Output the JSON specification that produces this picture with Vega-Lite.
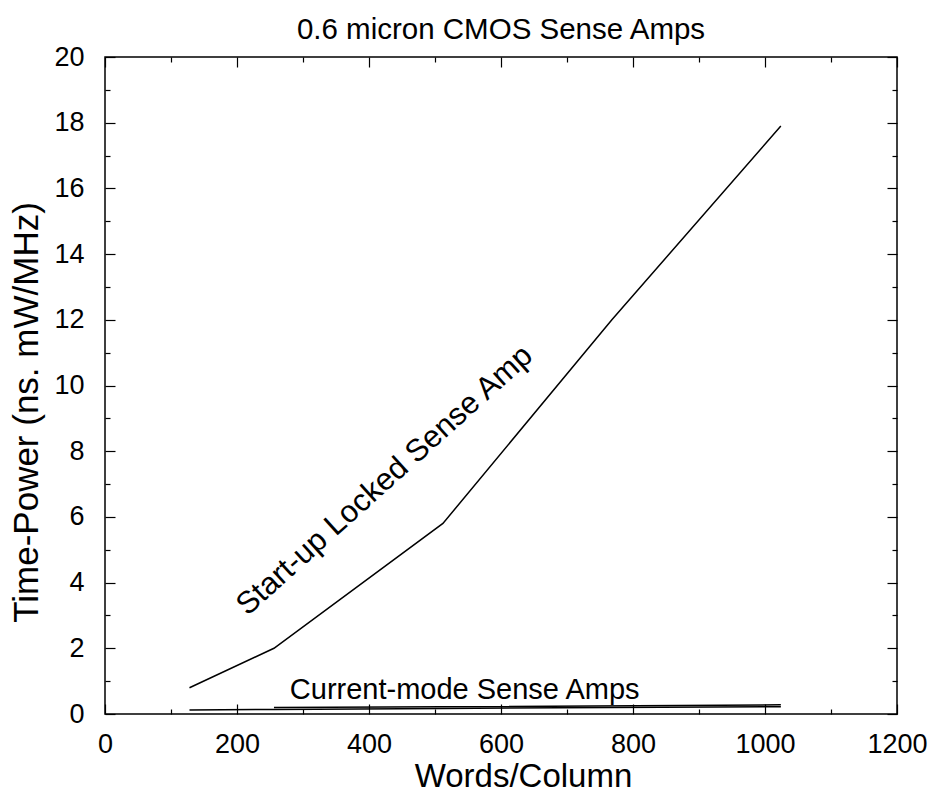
{
  "$schema": "https://vega.github.io/schema/vega-lite/v6.json",
  "autosize": "none",
  "width": 792,
  "height": 657,
  "padding": {"left": 105, "top": 57, "right": 40, "bottom": 85},
  "background": "white",
  "title": {"text": "0.6 micron CMOS Sense Amps", "font": "Liberation Sans", "fontSize": 29.5, "fontWeight": "normal", "color": "black", "offset": -2},
  "config": {
    "view": {"stroke": "black", "strokeWidth": 1.5},
    "axis": {"domain": false, "grid": false, "labelFont": "Liberation Sans", "titleFont": "Liberation Sans", "labelColor": "black", "titleColor": "black", "tickColor": "black", "labelFontSize": 27, "titleFontSize": 35, "titleFontWeight": "normal", "tickWidth": 1.2, "format": "d", "labelFlush": false, "labelOverlap": false}
  },
  "datasets": {
    "lines": [
      {"words": 128, "tp": 0.8, "series": "Start-up Locked"},
      {"words": 256, "tp": 2.0, "series": "Start-up Locked"},
      {"words": 512, "tp": 5.8, "series": "Start-up Locked"},
      {"words": 768, "tp": 12.0, "series": "Start-up Locked"},
      {"words": 1024, "tp": 17.9, "series": "Start-up Locked"},
      {"words": 128, "tp": 0.12, "series": "Current-mode A"},
      {"words": 256, "tp": 0.14, "series": "Current-mode A"},
      {"words": 512, "tp": 0.17, "series": "Current-mode A"},
      {"words": 1024, "tp": 0.22, "series": "Current-mode A"},
      {"words": 256, "tp": 0.2, "series": "Current-mode B"},
      {"words": 512, "tp": 0.22, "series": "Current-mode B"},
      {"words": 1024, "tp": 0.28, "series": "Current-mode B"}
    ],
    "labels": [
      {"words": 424, "tp": 7.1, "text": "Start-up Locked Sense Amp", "angle": -42},
      {"words": 545, "tp": 0.73, "text": "Current-mode Sense Amps", "angle": 0}
    ]
  },
  "resolve": {"axis": {"x": "independent", "y": "independent"}},
  "layer": [
    {
      "data": {"name": "lines"},
      "mark": {"type": "line", "color": "black", "strokeWidth": 1.5},
      "encoding": {
        "x": {"field": "words", "type": "quantitative", "scale": {"domain": [0, 1200], "nice": false}, "axis": {"orient": "bottom", "title": "Words/Column", "values": [0, 200, 400, 600, 800, 1000, 1200], "tickSize": -10, "labelPadding": 27, "titlePadding": 3, "titleX": 418, "titleFontSize": 33}},
        "y": {"field": "tp", "type": "quantitative", "scale": {"domain": [0, 20], "nice": false}, "axis": {"orient": "left", "title": "Time-Power (ns. mW/MHz)", "values": [0, 2, 4, 6, 8, 10, 12, 14, 16, 18, 20], "tickSize": -10, "labelPadding": 31, "titlePadding": 9, "titleY": 355}},
        "detail": {"field": "series"}
      }
    },
    {
      "data": {"name": "lines"},
      "mark": {"type": "point", "opacity": 0},
      "encoding": {
        "x": {"field": "words", "type": "quantitative", "axis": {"orient": "bottom", "title": null, "labels": false, "values": [100, 300, 500, 700, 900, 1100], "tickSize": -5}},
        "y": {"field": "tp", "type": "quantitative", "axis": {"orient": "left", "title": null, "labels": false, "values": [1, 3, 5, 7, 9, 11, 13, 15, 17, 19], "tickSize": -5}}
      }
    },
    {
      "data": {"name": "lines"},
      "mark": {"type": "point", "opacity": 0},
      "encoding": {
        "x": {"field": "words", "type": "quantitative", "axis": {"orient": "top", "title": null, "labels": false, "values": [0, 200, 400, 600, 800, 1000, 1200], "tickSize": -10}},
        "y": {"field": "tp", "type": "quantitative", "axis": {"orient": "right", "title": null, "labels": false, "values": [0, 2, 4, 6, 8, 10, 12, 14, 16, 18, 20], "tickSize": -10}}
      }
    },
    {
      "data": {"name": "lines"},
      "mark": {"type": "point", "opacity": 0},
      "encoding": {
        "x": {"field": "words", "type": "quantitative", "axis": {"orient": "top", "title": null, "labels": false, "values": [100, 300, 500, 700, 900, 1100], "tickSize": -5}},
        "y": {"field": "tp", "type": "quantitative", "axis": {"orient": "right", "title": null, "labels": false, "values": [1, 3, 5, 7, 9, 11, 13, 15, 17, 19], "tickSize": -5}}
      }
    },
    {
      "data": {"name": "labels"},
      "mark": {"type": "text", "font": "Liberation Sans", "color": "black", "align": "center", "baseline": "middle"},
      "encoding": {
        "x": {"field": "words", "type": "quantitative", "axis": null},
        "y": {"field": "tp", "type": "quantitative", "axis": null},
        "text": {"field": "text"},
        "angle": {"field": "angle", "type": "quantitative", "scale": null},
        "size": {"field": "text", "type": "nominal", "scale": {"domain": ["Start-up Locked Sense Amp", "Current-mode Sense Amps"], "range": [31, 29]}, "legend": null}
      }
    }
  ]
}
